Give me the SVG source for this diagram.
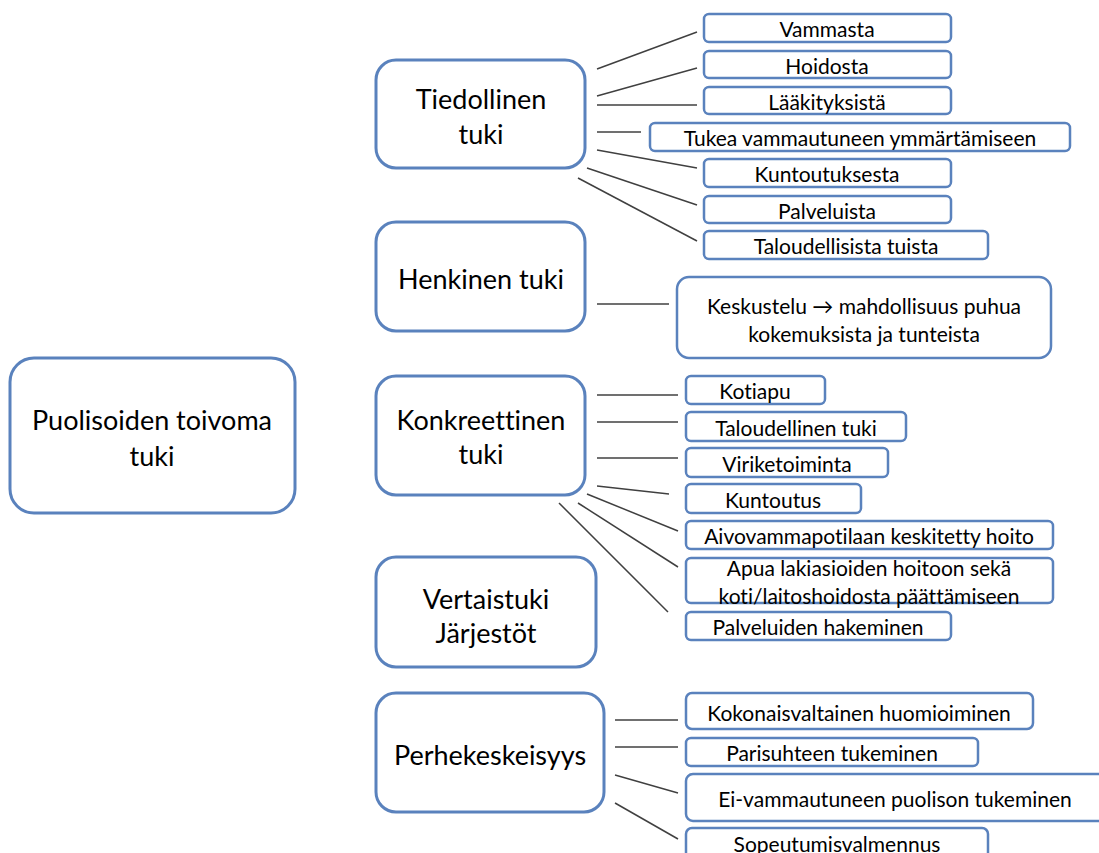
<svg xmlns="http://www.w3.org/2000/svg" width="1099" height="853" viewBox="0 0 1099 853">
<style>
.big{fill:#fff;stroke:#5a82bd;stroke-width:3}
.sm{fill:#fff;stroke:#5a82bd;stroke-width:2.5}
.tb{font-family:Lato,"Liberation Sans",sans-serif;font-size:27px;fill:#000;text-anchor:middle;dominant-baseline:central;font-variant-ligatures:none}
.ts{font-family:Lato,"Liberation Sans",sans-serif;font-size:21px;fill:#000;text-anchor:middle;dominant-baseline:central;font-variant-ligatures:none}
.ln line{stroke:#404040;stroke-width:1.5}
</style>
<rect width="1099" height="853" fill="#fff"/>
<g id="connectors" class="ln">
<line x1="597" y1="69" x2="697" y2="32"/>
<line x1="597" y1="96" x2="697" y2="68"/>
<line x1="597" y1="105" x2="697" y2="105"/>
<line x1="597" y1="132" x2="641" y2="132"/>
<line x1="597" y1="150" x2="697" y2="168"/>
<line x1="587" y1="168" x2="697" y2="205"/>
<line x1="578" y1="178" x2="697" y2="241"/>
<line x1="597" y1="304" x2="669" y2="304"/>
<line x1="597" y1="395" x2="678" y2="395"/>
<line x1="597" y1="422" x2="678" y2="422"/>
<line x1="597" y1="458" x2="678" y2="458"/>
<line x1="597" y1="486" x2="669" y2="494"/>
<line x1="587" y1="494" x2="678" y2="531"/>
<line x1="578" y1="503" x2="678" y2="567"/>
<line x1="559" y1="503" x2="668" y2="612"/>
<line x1="615" y1="720" x2="678" y2="720"/>
<line x1="615" y1="747" x2="678" y2="747"/>
<line x1="615" y1="775" x2="678" y2="793"/>
<line x1="615" y1="803" x2="678" y2="839"/>
</g>
<g id="root"><rect class="big" x="10" y="358" width="285" height="155" rx="24"/><text class="tb" x="152" y="419">Puolisoiden toivoma</text><text class="tb" x="152" y="455">tuki</text></g>
<g id="tiedollinen"><rect class="big" x="376" y="60" width="209" height="108" rx="20"/><text class="tb" x="481" y="98">Tiedollinen</text><text class="tb" x="481" y="133">tuki</text></g>
<g id="henkinen"><rect class="big" x="376" y="222" width="209" height="109" rx="20"/><text class="tb" x="481" y="278">Henkinen tuki</text></g>
<g id="konkreettinen"><rect class="big" x="376" y="376" width="209" height="119" rx="20"/><text class="tb" x="481" y="419">Konkreettinen</text><text class="tb" x="481" y="453">tuki</text></g>
<g id="vertaistuki"><rect class="big" x="376" y="557" width="220" height="110" rx="20"/><text class="tb" x="486" y="598">Vertaistuki</text><text class="tb" x="486" y="632">Järjestöt</text></g>
<g id="perhe"><rect class="big" x="376" y="693" width="228" height="119" rx="20"/><text class="tb" x="490" y="754">Perhekeskeisyys</text></g>
<g id="vammasta"><rect class="sm" x="704" y="14" width="247" height="28" rx="5"/><text class="ts" x="827" y="28">Vammasta</text></g>
<g id="hoidosta"><rect class="sm" x="704" y="51" width="247" height="27" rx="5"/><text class="ts" x="827" y="65">Hoidosta</text></g>
<g id="laakityksista"><rect class="sm" x="704" y="87" width="247" height="27" rx="5"/><text class="ts" x="827" y="101">Lääkityksistä</text></g>
<g id="tukea"><rect class="sm" x="650" y="123" width="420" height="28" rx="5"/><text class="ts" x="860" y="137">Tukea vammautuneen ymmärtämiseen</text></g>
<g id="kuntoutuksesta"><rect class="sm" x="704" y="159" width="247" height="28" rx="5"/><text class="ts" x="827" y="173">Kuntoutuksesta</text></g>
<g id="palveluista"><rect class="sm" x="704" y="196" width="247" height="27" rx="5"/><text class="ts" x="827" y="210">Palveluista</text></g>
<g id="taloudellisista"><rect class="sm" x="704" y="231" width="284" height="28" rx="5"/><text class="ts" x="846" y="245">Taloudellisista tuista</text></g>
<g id="keskustelu"><rect class="sm" x="677" y="277" width="374" height="81" rx="12"/><text class="ts" x="864" y="305">Keskustelu → mahdollisuus puhua</text><text class="ts" x="864" y="333">kokemuksista ja tunteista</text></g>
<g id="kotiapu"><rect class="sm" x="686" y="376" width="139" height="28" rx="5"/><text class="ts" x="755" y="390">Kotiapu</text></g>
<g id="taloudellinen"><rect class="sm" x="686" y="412" width="220" height="29" rx="5"/><text class="ts" x="796" y="427">Taloudellinen tuki</text></g>
<g id="viriketoiminta"><rect class="sm" x="686" y="448" width="202" height="29" rx="5"/><text class="ts" x="787" y="463">Viriketoiminta</text></g>
<g id="kuntoutus"><rect class="sm" x="686" y="484" width="175" height="29" rx="5"/><text class="ts" x="773" y="499">Kuntoutus</text></g>
<g id="aivovamma"><rect class="sm" x="686" y="521" width="367" height="28" rx="5"/><text class="ts" x="869" y="535">Aivovammapotilaan keskitetty hoito</text></g>
<g id="apua"><rect class="sm" x="686" y="558" width="367" height="45" rx="5"/><text class="ts" x="869" y="567">Apua lakiasioiden hoitoon sekä</text><text class="ts" x="869" y="595">koti/laitoshoidosta päättämiseen</text></g>
<g id="palveluiden"><rect class="sm" x="686" y="612" width="265" height="28" rx="5"/><text class="ts" x="818" y="626">Palveluiden hakeminen</text></g>
<g id="kokonais"><rect class="sm" x="686" y="693" width="347" height="36" rx="6"/><text class="ts" x="859" y="712">Kokonaisvaltainen huomioiminen</text></g>
<g id="parisuhde"><rect class="sm" x="686" y="738" width="292" height="28" rx="5"/><text class="ts" x="832" y="752">Parisuhteen tukeminen</text></g>
<g id="eivamma"><rect class="sm" x="686" y="774" width="420" height="47" rx="7"/><text class="ts" x="895" y="798">Ei-vammautuneen puolison tukeminen</text></g>
<g id="sopeutumis"><rect class="sm" x="686" y="828" width="302" height="40" rx="6"/><text class="ts" x="837" y="843">Sopeutumisvalmennus</text></g>
</svg>
